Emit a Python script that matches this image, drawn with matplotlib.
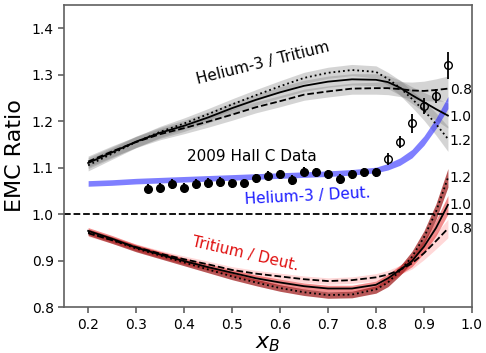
import numpy as np
import matplotlib
matplotlib.use("Agg")
import matplotlib.pyplot as plt

# Common x grid for the model curves
x_grid = [0.20, 0.25, 0.30, 0.35, 0.40, 0.45, 0.50, 0.55, 0.60, 0.65,
          0.70, 0.75, 0.80, 0.825, 0.85, 0.875, 0.90, 0.925, 0.95]

# Helium-3 / Tritium ratio for three parameter values
he3t_08 = [1.113, 1.135, 1.155, 1.172, 1.185, 1.199, 1.214, 1.230, 1.243, 1.257,
           1.264, 1.270, 1.271, 1.271, 1.269, 1.266, 1.265, 1.267, 1.270]
he3t_10 = [1.110, 1.133, 1.156, 1.175, 1.190, 1.208, 1.228, 1.246, 1.262, 1.276,
           1.285, 1.290, 1.289, 1.284, 1.272, 1.256, 1.241, 1.226, 1.212]
he3t_12 = [1.105, 1.130, 1.155, 1.177, 1.195, 1.215, 1.236, 1.256, 1.275, 1.293,
           1.304, 1.310, 1.306, 1.291, 1.272, 1.248, 1.223, 1.194, 1.162]
he3t_err = [0.012, 0.012, 0.012, 0.012, 0.012, 0.012, 0.012, 0.012, 0.012, 0.012,
            0.012, 0.012, 0.013, 0.014, 0.016, 0.018, 0.021, 0.024, 0.027]

# Helium-3 / Deuterium ratio
he3d = [1.066, 1.068, 1.071, 1.073, 1.075, 1.077, 1.079, 1.081, 1.083, 1.085,
        1.087, 1.090, 1.095, 1.102, 1.113, 1.130, 1.158, 1.195, 1.240]
he3d_err = [0.006, 0.006, 0.006, 0.006, 0.006, 0.006, 0.006, 0.006, 0.006, 0.006,
            0.006, 0.006, 0.006, 0.007, 0.008, 0.009, 0.010, 0.011, 0.013]

# Tritium / Deuterium ratio for three parameter values
td_08 = [0.959, 0.944, 0.929, 0.915, 0.903, 0.892, 0.880, 0.872, 0.866, 0.860,
         0.856, 0.858, 0.864, 0.870, 0.880, 0.894, 0.916, 0.942, 0.969]
td_10 = [0.964, 0.947, 0.928, 0.913, 0.899, 0.886, 0.874, 0.862, 0.853, 0.845,
         0.840, 0.840, 0.848, 0.862, 0.880, 0.899, 0.930, 0.970, 1.020]
td_12 = [0.961, 0.944, 0.926, 0.911, 0.896, 0.881, 0.866, 0.853, 0.841, 0.832,
         0.826, 0.827, 0.838, 0.853, 0.878, 0.908, 0.950, 1.005, 1.078]
td_err = [0.007, 0.007, 0.007, 0.007, 0.007, 0.007, 0.007, 0.007, 0.007, 0.007,
          0.007, 0.007, 0.008, 0.009, 0.010, 0.012, 0.014, 0.017, 0.020]

# 2009 Hall C data
hallc_x = [0.325, 0.35, 0.375, 0.40, 0.425, 0.45, 0.475, 0.50, 0.525, 0.55,
           0.575, 0.60, 0.625, 0.65, 0.675, 0.70, 0.725, 0.75, 0.775, 0.80]
hallc_y = [1.055, 1.057, 1.065, 1.057, 1.065, 1.067, 1.069, 1.066, 1.066, 1.077,
           1.083, 1.086, 1.073, 1.091, 1.090, 1.086, 1.075, 1.086, 1.090, 1.090]
hallc_err = [0.010, 0.010, 0.010, 0.010, 0.010, 0.010, 0.010, 0.010, 0.010, 0.010,
             0.010, 0.010, 0.011, 0.010, 0.010, 0.010, 0.011, 0.010, 0.010, 0.010]
hallc_hi_x = [0.825, 0.85, 0.875, 0.90, 0.925, 0.95]
hallc_hi_y = [1.118, 1.155, 1.195, 1.233, 1.254, 1.320]
hallc_hi_err = [0.013, 0.013, 0.020, 0.017, 0.016, 0.029]

curve_labels = ["0.8", "1.0", "1.2"]

x_ticks = [0.2, 0.3, 0.4, 0.5, 0.6, 0.7, 0.8, 0.9, 1.0]
y_ticks = [0.8, 0.9, 1.0, 1.1, 1.2, 1.3, 1.4]

xg = np.array(x_grid)

fig = plt.figure(figsize=(4.86, 3.53), dpi=100)
ax = fig.add_axes([0.132, 0.130, 0.839, 0.856])

# Helium-3 / Tritium bands and lines
he3t_sets = [(he3t_08, "--"), (he3t_10, "-"), (he3t_12, ":")]
e = np.array(he3t_err)
for vals, ls in he3t_sets:
    v = np.array(vals)
    ax.fill_between(xg, v - e, v + e, color="0.45", alpha=0.3, lw=0, zorder=1)
for vals, ls in he3t_sets:
    ax.plot(xg, vals, color="black", ls=ls, lw=1.3, zorder=3)

# Helium-3 / Deuterium band
v = np.array(he3d)
e = np.array(he3d_err)
ax.fill_between(xg, v - e, v + e, color="#2a2aff", alpha=0.6, lw=0, zorder=2)

# Tritium / Deuterium bands and lines
e = np.array(td_err)
td_sets = [(td_08, "--", "#ff8080", 0.3), (td_10, "-", "#e83030", 0.55),
           (td_12, ":", "#a02020", 0.75)]
for vals, ls, c, a in td_sets:
    v = np.array(vals)
    ax.fill_between(xg, v - e, v + e, color=c, alpha=a, lw=0, zorder=1)
for vals, ls, c, a in td_sets:
    ax.plot(xg, vals, color="black", ls=ls, lw=1.3, zorder=3)

# Unity reference line
ax.axhline(1.0, color="black", ls="--", lw=1.3, zorder=2)

# Hall C data points
ax.errorbar(hallc_x, hallc_y, yerr=hallc_err, fmt="o", color="black",
            ms=5.5, lw=1.5, capsize=0, zorder=5)
ax.errorbar(hallc_hi_x, hallc_hi_y, yerr=hallc_hi_err, fmt="o", color="black",
            mfc="none", ms=5.5, mew=1.0, lw=1.3, capsize=0, zorder=5)

# End-of-curve parameter labels
for vals, lab in zip([he3t_08, he3t_10, he3t_12], curve_labels):
    ax.text(0.954, vals[-1] - 0.004, lab, fontsize=10, va="center", ha="left")
for vals, lab in zip([td_08, td_10, td_12], curve_labels):
    ax.text(0.954, vals[-1] + 0.0, lab, fontsize=10, va="center", ha="left")

# Curve annotations
ax.text(0.565, 1.325, "Helium-3 / Tritium", fontsize=11, rotation=14,
        ha="center", va="center")
ax.text(0.542, 1.123, "2009 Hall C Data", fontsize=11, ha="center", va="center")
ax.text(0.658, 1.039, "Helium-3 / Deut.", fontsize=11, color="#1a1aff",
        rotation=3, ha="center", va="center")
ax.text(0.527, 0.915, "Tritium / Deut.", fontsize=11, color="#e01010",
        rotation=-13, ha="center", va="center")

ax.set_xlim(0.15, 1.0)
ax.set_ylim(0.8, 1.45)
ax.set_xticks(x_ticks)
ax.set_yticks(y_ticks)
ax.set_xticklabels([f"{t:.1f}" for t in x_ticks])
ax.set_yticklabels([f"{t:.1f}" for t in y_ticks])
ax.tick_params(labelsize=10, color="#606060", width=1.2, length=4)
for s in ax.spines.values():
    s.set_color("#606060")
    s.set_linewidth(1.2)

ax.set_xlabel("$x_B$", fontsize=16, labelpad=2)
ax.set_ylabel("EMC Ratio", fontsize=16, labelpad=5)

fig.savefig("out.png", dpi=100)
